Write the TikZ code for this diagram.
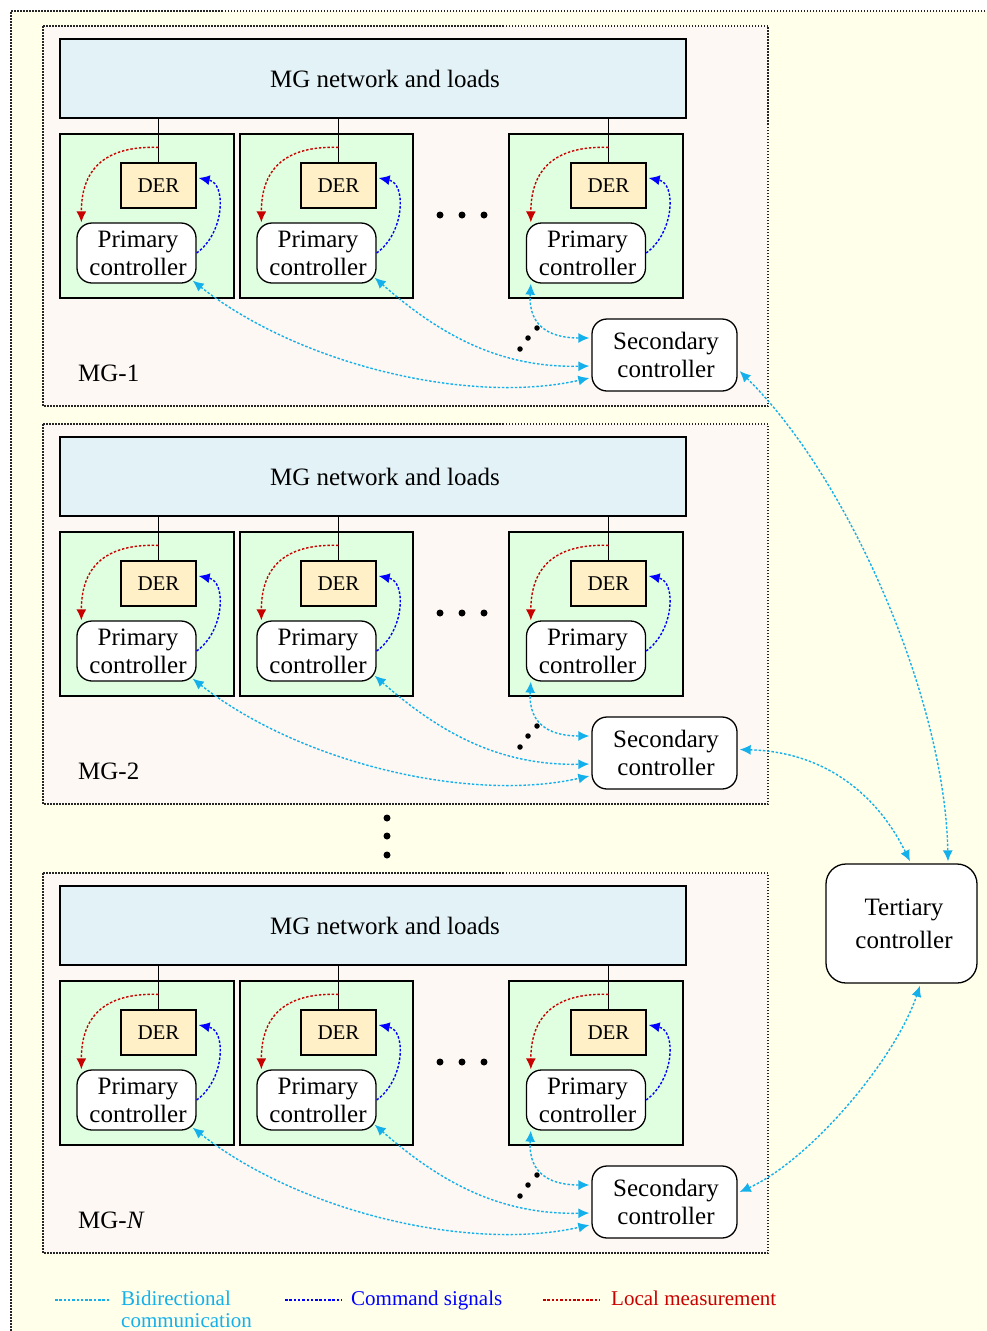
\documentclass[tikz,border=0pt]{standalone}
\usepackage{fontspec}
\setmainfont{Liberation Serif}
\usetikzlibrary{arrows.meta}
\definecolor{bgyel}{RGB}{255,255,234}
\definecolor{mgfill}{RGB}{253,248,243}
\definecolor{netfill}{RGB}{227,242,247}
\definecolor{grnfill}{RGB}{224,255,224}
\definecolor{derfill}{RGB}{255,240,200}
\definecolor{cyancom}{RGB}{20,176,235}
\definecolor{bluecmd}{RGB}{0,0,255}
\definecolor{redmeas}{RGB}{200,0,0}
\tikzset{
  x=1pt,y=-1pt,
  dotborder/.style={draw=black!85,line width=1.3pt,dash pattern=on 1.5pt off 1.5pt},
  netbox/.style={draw,line width=1.3pt,fill=netfill,minimum width=626pt,minimum height=79pt,inner sep=0pt,font=\fontsize{25}{28}\selectfont},
  grnbox/.style={draw,line width=1.3pt,fill=grnfill},
  derbox/.style={draw,line width=1.3pt,fill=derfill,minimum width=75pt,minimum height=45pt,inner sep=0pt,font=\fontsize{21}{24}\selectfont},
  primbox/.style={draw,line width=1.3pt,fill=white,rounded corners=15pt,minimum width=119pt,minimum height=60pt,inner sep=0pt,align=center,font=\fontsize{25}{28}\selectfont},
  secbox/.style={draw,line width=1.3pt,fill=white,rounded corners=15pt,minimum width=145pt,minimum height=72pt,inner sep=0pt,align=center,font=\fontsize{25}{28}\selectfont},
  tertbox/.style={draw,line width=1.3pt,fill=white,rounded corners=20pt,minimum width=151pt,minimum height=119pt,inner sep=0pt,align=center,font=\fontsize{25}{33}\selectfont},
  sig/.style={line width=1.4pt,dash pattern=on 2.5pt off 1.8pt},
  comm/.style={sig,draw=cyancom,{Latex[length=11pt,width=10pt]}-{Latex[length=11pt,width=10pt]}},
  cmd/.style={sig,draw=bluecmd,-{Latex[length=11pt,width=10pt]}},
  meas/.style={sig,draw=redmeas,-{Latex[length=11pt,width=10pt]}},
  bigdot/.style={circle,fill=black,inner sep=0pt,minimum size=7pt},
  mglabel/.style={anchor=west,inner sep=0pt,font=\fontsize{25}{28}\selectfont},
  legtext/.style={anchor=base west,inner sep=0pt,align=left,font=\fontsize{21}{22}\selectfont},
}
\begin{document}
\begin{tikzpicture}
\useasboundingbox (0,0) rectangle (987,1331);
% outer background
\fill[bgyel] (11,11) rectangle (1000,1340);
\draw[dotborder] (1000,11) -- (11,11) -- (11,1340);

\foreach \off/\i/\lab in {0/1/{MG-1}, 398/2/{MG-2}, 847/N/{MG-\textit{N}}} {
\begin{scope}[shift={(0,\off)}]
  \draw[dotborder,fill=mgfill] (43,26) rectangle (768,406);
  \node[netbox] (net\i) at (373,78.5) {\hspace*{24pt}MG network and loads};
  \draw[grnbox] (60,134) rectangle (234,298);
  \draw[grnbox] (240,134) rectangle (413,298);
  \draw[grnbox] (509,134) rectangle (683,298);
  \node[derbox] (der\i a) at (158.5,185.5) {DER};
  \node[derbox] (der\i b) at (338.5,185.5) {DER};
  \node[derbox] (der\i c) at (608.5,185.5) {DER};
  \node[primbox] (pr\i a) at (136.5,253) {\hspace*{3pt}Primary\\\hspace*{3pt}controller};
  \node[primbox] (pr\i b) at (316.5,253) {\hspace*{3pt}Primary\\\hspace*{3pt}controller};
  \node[primbox] (pr\i c) at (586,253) {\hspace*{3pt}Primary\\\hspace*{3pt}controller};
  \node[secbox] (sec\i) at (664.5,355) {\hspace*{3pt}Secondary\\\hspace*{3pt}controller};
  \foreach \k in {a,b,c} {
    \draw[line width=1.3pt] (net\i.south -| der\i\k.north) -- (der\i\k.north);
    \draw[meas] ([yshift=15pt]der\i\k.north) .. controls ([xshift=-62pt,yshift=17pt]der\i\k.north) and ([xshift=5pt,yshift=45pt]pr\i\k.north west) .. ([xshift=5pt]pr\i\k.north west);
    \draw[cmd] (pr\i\k.east) .. controls ([xshift=28pt,yshift=20pt]pr\i\k.east) and ([xshift=30pt,yshift=2pt]der\i\k.east) .. ([xshift=2pt,yshift=7.5pt]der\i\k.east);
  }
  \node[bigdot] (h\i a) at (440,215) {};
  \node[bigdot] (h\i b) at (462,215) {};
  \node[bigdot] (h\i c) at (484,215) {};
  \node[bigdot,minimum size=5.5pt] (d\i a) at (520,349) {};
  \node[bigdot,minimum size=5.5pt] (d\i b) at (528,338) {};
  \node[bigdot,minimum size=5.5pt] (d\i c) at (537,328) {};
  \draw[comm] ([xshift=-4pt,yshift=3pt]pr\i a.south east) .. controls (300,365) and (470,405) .. ([xshift=-2pt,yshift=-23pt]sec\i.west);
  \draw[comm] ([xshift=-2pt,yshift=6pt]pr\i b.south east) .. controls (440,335) and (500,368) .. ([xshift=-2pt,yshift=-11pt]sec\i.west);
  \draw[comm] ([xshift=5pt]pr\i c.south west) .. controls (528,330) and (555,338) .. ([xshift=-2pt,yshift=17pt]sec\i.west);
  \node[mglabel] (lab\i) at (78,373) {\lab};
\end{scope}
}

\node[tertbox] (tert) at (901.5,923.5) {\hspace*{5pt}Tertiary\\\hspace*{5pt}controller};
\node[bigdot] (va) at (387,818) {};
\node[bigdot] (vb) at (387,836) {};
\node[bigdot] (vc) at (387,855) {};

\draw[comm] ([xshift=2pt,yshift=-16pt]sec1.east) .. controls (850,480) and (945,700) .. ([xshift=46.5pt,yshift=2pt]tert.north);
\draw[comm] ([xshift=2pt,yshift=3.5pt]sec2.east) .. controls (830,752) and (880,800) .. ([xshift=8.5pt,yshift=2pt]tert.north);
\draw[comm] ([xshift=2pt,yshift=10pt]secN.east) .. controls (810,1160) and (895,1060) .. ([xshift=18.5pt,yshift=-2pt]tert.south);

% legend
\coordinate (l1a) at (55,1300);
\coordinate (l1b) at (110,1300);
\draw[sig,draw=cyancom] (l1a) -- (l1b);
\node[legtext,text=cyancom,anchor=north west] (t1) at (121,1291) {Bidirectional\\communication};
\coordinate (l2a) at (285,1300);
\coordinate (l2b) at (341,1300);
\draw[sig,draw=bluecmd] (l2a) -- (l2b);
\node[legtext,text=bluecmd] (t2) at (351,1305) {Command signals};
\coordinate (l3a) at (543,1300);
\coordinate (l3b) at (599,1300);
\draw[sig,draw=redmeas] (l3a) -- (l3b);
\node[legtext,text=redmeas] (t3) at (611,1305) {Local measurement};
\end{tikzpicture}
\end{document}
